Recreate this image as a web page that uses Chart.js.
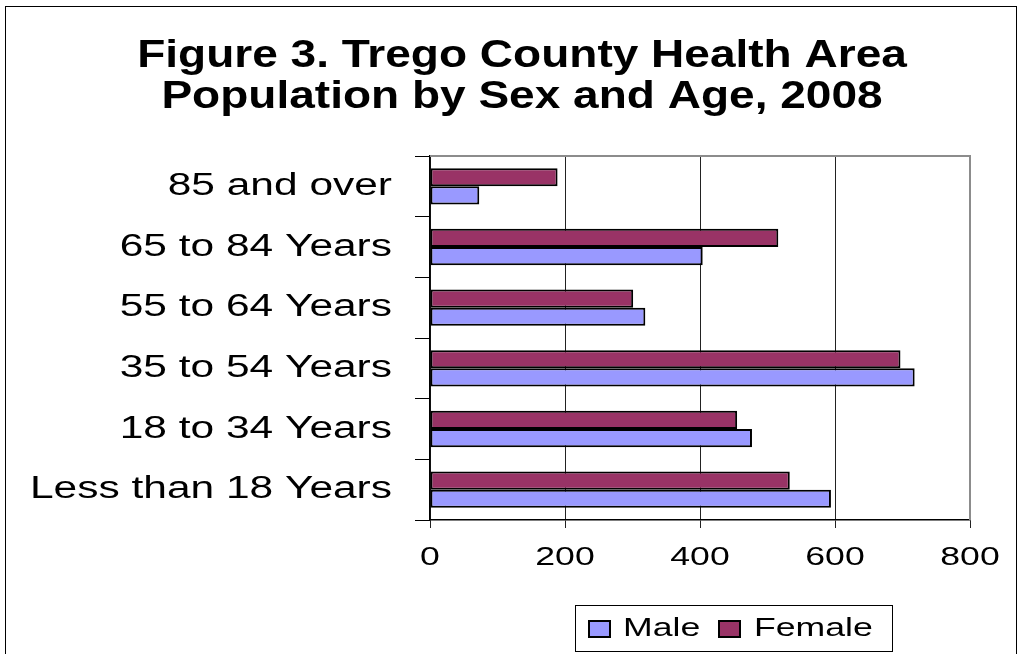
<!DOCTYPE html>
<html>
<head>
<meta charset="utf-8">
<script src="https://cdn.jsdelivr.net/npm/chart.js@4.4.1/dist/chart.umd.min.js"></script>
<style>
  html, body { margin: 0; padding: 0; background: #fff; }
  #wrap { position: relative; width: 1018px; height: 654px; }
</style>
</head>
<body>
<div id="wrap"><canvas id="c" width="1018" height="654"></canvas></div>
<script>
// ---- Data (bottom-to-top order; y axis is reversed) ----
const categories = ["Less than 18 Years", "18 to 34 Years", "35 to 54 Years", "55 to 64 Years", "65 to 84 Years", "85 and over"];
const maleValues = [594, 477, 718, 319, 404, 73];
const femaleValues = [533, 455, 697, 301, 516, 189];
const seriesNames = ["Male", "Female"];
const xTickValues = [0, 200, 400, 600, 800];
const titleLines = ["Figure 3. Trego County Health Area", "Population by Sex and Age, 2008"];

const FONT = "'Liberation Sans', Arial, sans-serif";
const STRETCH_TITLE = 1.18;
const STRETCH_BODY = 1.37;

const canvas = document.getElementById('c');
const ctx = canvas.getContext('2d');
// horizontally stretched text, as in the original rendering
const rawFill = ctx.fillText;
ctx.fillText = function (text, x, y) {
  const s = /bold/.test(this.font) ? STRETCH_TITLE : STRETCH_BODY;
  this.save();
  this.translate(x, y);
  this.scale(s, 1);
  rawFill.call(this, text, 0, 0);
  this.restore();
};

const framePlugin = {
  id: 'frame',
  beforeDraw(chart) {
    const c = chart.ctx;
    c.save();
    c.fillStyle = '#fff';
    c.fillRect(0, 0, chart.width, chart.height);
    c.strokeStyle = '#000';
    c.lineWidth = 1;
    c.strokeRect(5.5, 6.5, 1011, 700);
    // title
    c.fillStyle = '#000';
    c.font = 'bold 39px ' + FONT;
    c.textAlign = 'center';
    c.textBaseline = 'middle';
    titleLines.forEach((t, i) => c.fillText(t, 522, 56 + i * 41));
    c.restore();
  },
  afterDraw(chart) {
    const c = chart.ctx;
    const a = chart.chartArea;
    c.save();
    // plot area top/right border (gray)
    c.strokeStyle = '#8c8c8c';
    c.lineWidth = 2;
    c.beginPath();
    c.moveTo(a.left, a.top);
    c.lineTo(a.right, a.top);
    c.lineTo(a.right, a.bottom);
    c.stroke();
    c.restore();

    // legend (Male first, then Female)
    const lx = 575, ly = 605, lw = 317, lh = 46;
    c.save();
    c.strokeStyle = '#000';
    c.lineWidth = 1;
    c.strokeRect(lx + 0.5, ly + 0.5, lw, lh);
    const byName = n => chart.data.datasets.find(d => d.label === n);
    const items = [
      { ds: byName(seriesNames[0]), sx: 589, tx: 623 },
      { ds: byName(seriesNames[1]), sx: 719, tx: 754 }
    ];
    const cy = ly + lh / 2 + 1;
    items.forEach(it => {
      c.fillStyle = it.ds.backgroundColor;
      c.fillRect(it.sx, cy - 8, 21, 16);
      c.strokeStyle = '#000';
      c.lineWidth = 2;
      c.strokeRect(it.sx, cy - 8, 21, 16);
      c.fillStyle = '#000';
      c.font = '26px ' + FONT;
      c.textAlign = 'left';
      c.textBaseline = 'middle';
      c.fillText(it.ds.label, it.tx, cy);
    });
    c.restore();
  }
};

new Chart(ctx, {
  type: 'bar',
  data: {
    labels: categories,
    datasets: [
      { label: seriesNames[1], data: femaleValues, backgroundColor: '#993366', borderColor: '#000', borderWidth: 2, borderSkipped: false },
      { label: seriesNames[0], data: maleValues, backgroundColor: '#9999FF', borderColor: '#000', borderWidth: 2, borderSkipped: false }
    ]
  },
  options: {
    indexAxis: 'y',
    responsive: false,
    animation: false,
    events: [],
    datasets: { bar: { categoryPercentage: 0.6, barPercentage: 1.0 } },
    layout: { padding: { top: 156, left: 0, right: 48, bottom: 0 } },
    plugins: {
      legend: { display: false },
      tooltip: { enabled: false },
      title: { display: false }
    },
    scales: {
      x: {
        type: 'linear',
        min: xTickValues[0],
        max: xTickValues[xTickValues.length - 1],
        afterBuildTicks(scale) { scale.ticks = xTickValues.map(v => ({ value: v })); },
        afterFit(scale) { scale.height = 134; },
        ticks: { color: '#000', font: { family: FONT, size: 26 }, padding: 14, maxRotation: 0 },
        grid: { color: '#222', lineWidth: 1, tickLength: 8, drawTicks: true },
        border: { color: '#000', width: 1.5 }
      },
      y: {
        reverse: true,
        afterFit(scale) { scale.width = 430; },
        ticks: { color: '#000', font: { family: FONT, size: 31 }, padding: 23 },
        grid: { drawOnChartArea: false, color: '#000', tickLength: 15, offset: true },
        border: { color: '#000', width: 1.5 }
      }
    }
  },
  plugins: [framePlugin]
});
</script>
</body>
</html>
